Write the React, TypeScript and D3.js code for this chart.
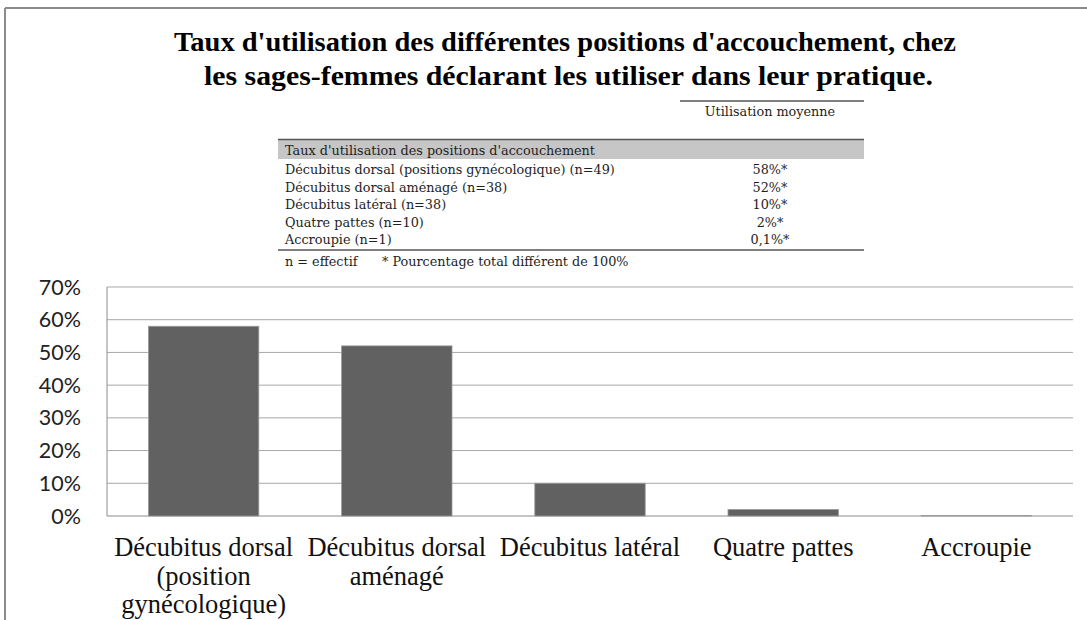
import React from "react";
import * as d3 from "d3";

const categoryLabels: string[][] = [
  ["Décubitus dorsal", "(position", "gynécologique)"],
  ["Décubitus dorsal", "aménagé"],
  ["Décubitus latéral"],
  ["Quatre pattes"],
  ["Accroupie"],
];
const values: number[] = [58, 52, 10, 2, 0.1];
const yTicks: number[] = [0, 10, 20, 30, 40, 50, 60, 70];

const titleLines: string[] = [
  "Taux d'utilisation  des différentes positions d'accouchement, chez",
  "les sages-femmes déclarant les utiliser  dans leur pratique.",
];

const tableHeader = "Utilisation moyenne";
const tableSection = "Taux d'utilisation des positions d'accouchement";
const tableRows: string[] = [
  "Décubitus dorsal (positions gynécologique) (n=49)",
  "Décubitus dorsal aménagé (n=38)",
  "Décubitus latéral (n=38)",
  "Quatre pattes (n=10)",
  "Accroupie (n=1)",
];
const tableValues: string[] = ["58%*", "52%*", "10%*", "2%*", "0,1%*"];
const tableNoteA = "n = effectif";
const tableNoteB = "* Pourcentage total différent de 100%";

export default function App() {
  const W = 1087;
  const H = 620;
  const plotL = 107;
  const plotR = 1073;
  const plotT = 287;
  const plotB = 516;

  const x = d3
    .scaleBand<number>()
    .domain(values.map((_, i) => i))
    .range([plotL, plotR])
    .paddingInner(0.75 / 1.75)
    .paddingOuter(0.75 / 3.5);
  const y = d3.scaleLinear().domain([0, 70]).range([plotB, plotT]);

  const tableL = 278;
  const tableR = 864;
  const valX = 770;
  const rowY0 = 174;
  const rowStep = 17.5;
  const lastRowY = rowY0 + 4 * rowStep;

  return (
    <svg
      width={W}
      height={H}
      style={{ position: "absolute", left: 0, top: 0, background: "#ffffff" }}
    >
      {/* frame */}
      <line x1={5} y1={8} x2={W} y2={8} stroke="#8a8a8a" strokeWidth={2} />
      <line x1={5} y1={8} x2={5} y2={H} stroke="#8a8a8a" strokeWidth={2} />

      {/* title */}
      <text
        x={174}
        y={51}
        textLength={782}
        lengthAdjust="spacingAndGlyphs"
        fontFamily="'Liberation Serif', serif"
        fontWeight="bold"
        fontSize={28}
        fill="#000"
      >
        {titleLines[0]}
      </text>
      <text
        x={204}
        y={85}
        textLength={729}
        lengthAdjust="spacingAndGlyphs"
        fontFamily="'Liberation Serif', serif"
        fontWeight="bold"
        fontSize={28}
        fill="#000"
      >
        {titleLines[1]}
      </text>

      {/* embedded table */}
      <g fontFamily="'DejaVu Serif', serif" fontSize={12.8} fill="#1e1e1e">
        <line x1={680} x2={tableR} y1={101} y2={101} stroke="#555" strokeWidth={1.5} />
        <text x={valX} y={116} textAnchor="middle">
          {tableHeader}
        </text>
        <rect x={tableL} y={139} width={tableR - tableL} height={20} fill="#c6c6c6" />
        <line x1={tableL} x2={tableR} y1={139.5} y2={139.5} stroke="#555" strokeWidth={1.5} />
        <text x={tableL + 7} y={155}>
          {tableSection}
        </text>
        {tableRows.map((r, i) => (
          <g key={r}>
            <text x={tableL + 7} y={rowY0 + i * rowStep}>
              {r}
            </text>
            <text x={valX} y={rowY0 + i * rowStep} textAnchor="middle">
              {tableValues[i]}
            </text>
          </g>
        ))}
        <line
          x1={tableL}
          x2={tableR}
          y1={lastRowY + 6}
          y2={lastRowY + 6}
          stroke="#555"
          strokeWidth={1.5}
        />
        <text x={tableL + 7} y={lastRowY + 22}>
          {tableNoteA}
        </text>
        <text x={382} y={lastRowY + 22}>
          {tableNoteB}
        </text>
      </g>

      {/* gridlines */}
      {yTicks.map((t) => (
        <line
          key={t}
          x1={plotL}
          x2={plotR}
          y1={y(t)}
          y2={y(t)}
          stroke={t === 0 ? "#8c8c8c" : "#a8a8a8"}
          strokeWidth={1}
        />
      ))}
      <line x1={plotL} x2={plotL} y1={plotT} y2={plotB} stroke="#8c8c8c" strokeWidth={1} />

      {/* y tick labels */}
      {yTicks.map((t) => (
        <text
          key={t}
          x={81}
          y={y(t)}
          dy="0.35em"
          textAnchor="end"
          fontFamily="Lato, 'Open Sans', sans-serif"
          fontSize={21.5}
          fill="#222"
        >
          {`${t}%`}
        </text>
      ))}

      {/* bars */}
      {values.map((v, i) => (
        <rect
          key={i}
          x={x(i)}
          y={y(v)}
          width={x.bandwidth()}
          height={plotB - y(v)}
          fill="#616161"
          stroke="#9a9a9a"
          strokeWidth={0.8}
        />
      ))}

      {/* category labels */}
      {categoryLabels.map((lines, i) => (
        <text
          key={i}
          textAnchor="middle"
          fontFamily="'Liberation Serif', serif"
          fontSize={26.5}
          fill="#111"
        >
          {lines.map((l, j) => (
            <tspan key={j} x={(x(i) as number) + x.bandwidth() / 2} y={556 + j * 28.5}>
              {l}
            </tspan>
          ))}
        </text>
      ))}
    </svg>
  );
}
